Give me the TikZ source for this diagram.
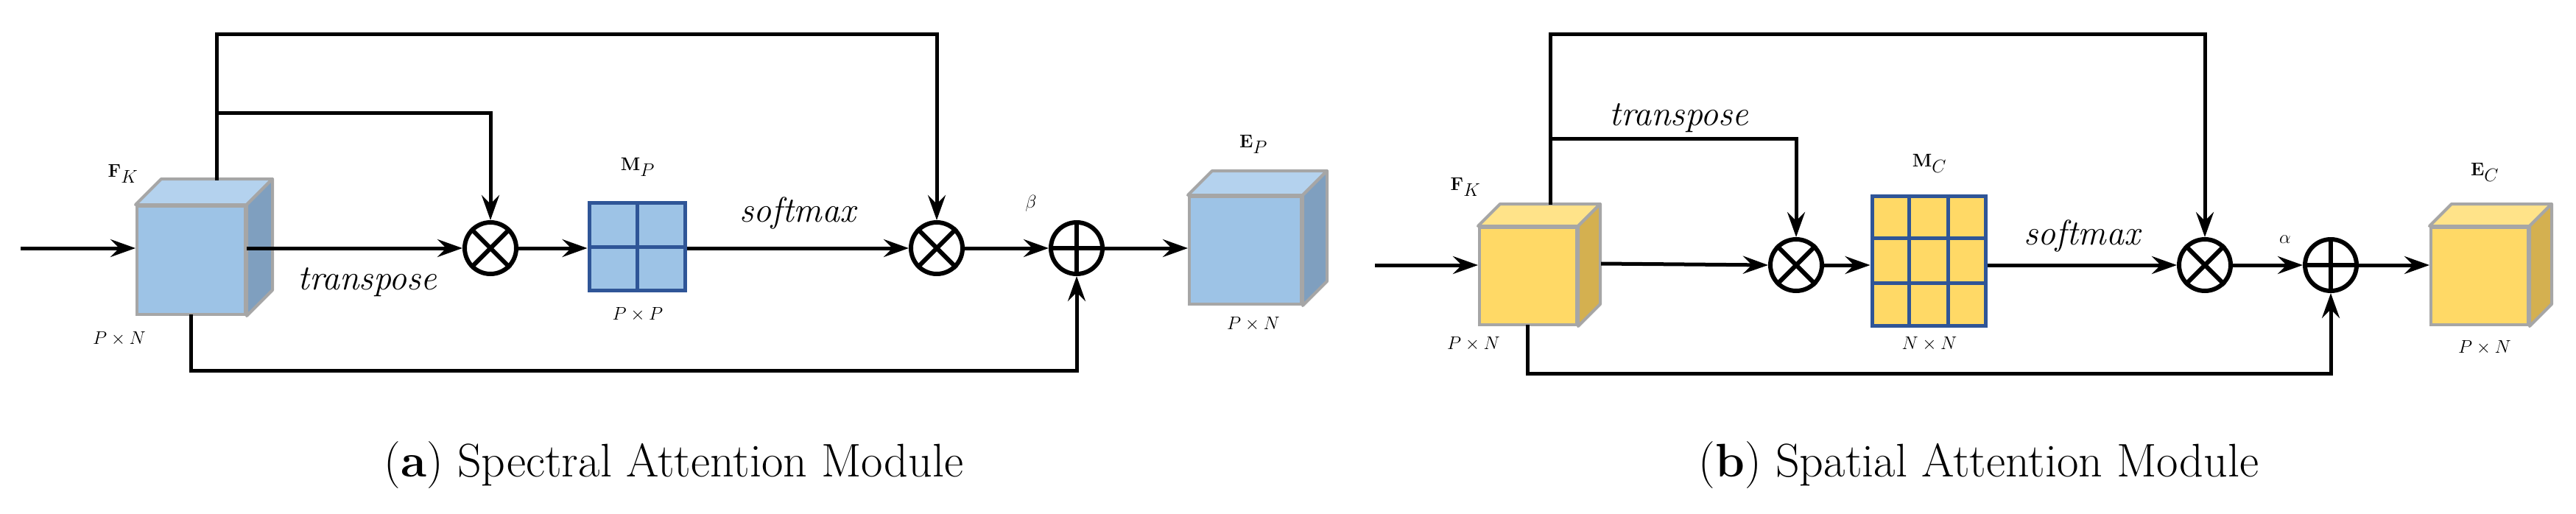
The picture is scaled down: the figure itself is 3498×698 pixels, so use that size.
\documentclass[tikz,border=0pt]{standalone}
\usetikzlibrary{arrows.meta,calc}
\definecolor{bfront}{HTML}{9DC3E6}
\definecolor{btop}{HTML}{B4D2EE}
\definecolor{bside}{HTML}{7F9FBF}
\definecolor{yfront}{HTML}{FFD966}
\definecolor{ytop}{HTML}{FFE389}
\definecolor{yside}{HTML}{D4B050}
\definecolor{gridc}{HTML}{2F5597}
\definecolor{edge}{HTML}{A6A6A6}
\newcommand{\mycube}[7]{% name, cx, cy, w, h, depth, colorprefix
  \node[draw=edge,line width=4pt,fill=#7front,minimum width=#4pt,minimum height=#5pt,inner sep=0pt] (#1) at (#2,#3) {};
  \fill[#7top,draw=edge,line width=4pt,line join=round] (#1.north west) -- ++(#6,-#6) -- ([xshift=#6pt,yshift=#6pt]#1.north east) -- (#1.north east) -- cycle;
  \fill[#7side,draw=edge,line width=4pt,line join=round] (#1.north east) -- ++(#6,-#6) -- ([xshift=#6pt,yshift=#6pt]#1.south east) -- (#1.south east) -- cycle;
}
\begin{document}
\begin{tikzpicture}[x=1pt,y=-1pt,
  ln/.style={line width=5pt},
  ar/.style={line width=5pt,-{Stealth[length=34pt,width=24pt,inset=12pt]}},
  op/.style={circle,draw,line width=6pt,minimum size=70pt,inner sep=0pt},
  lab/.style={font=\fontsize{48}{56}\selectfont\itshape},
  dim/.style={font=\fontsize{44}{52}\selectfont},
  big/.style={font=\fontsize{60}{70}\selectfont},
  captext/.style={font=\fontsize{64}{76}\selectfont}]
\useasboundingbox (0,0) rectangle (3498,698);
% ---------- (a) ----------
\mycube{ca}{259.5}{353.5}{147}{147}{35}{b}
\mycube{ea}{1691}{340}{152}{146}{33}{b}
\node[op] (oa1) at (666,337) {};
\draw[line width=6pt] (oa1.45)--(oa1.225) (oa1.135)--(oa1.315);
\node[op] (oa2) at (1272,337) {};
\draw[line width=6pt] (oa2.45)--(oa2.225) (oa2.135)--(oa2.315);
\node[op] (pa) at (1462,337) {};
\draw[line width=6pt] (pa.north)--(pa.south) (pa.west)--(pa.east);
\node[draw=gridc,fill=bfront,line width=5pt,minimum width=130pt,minimum height=119pt,inner sep=0pt] (ma) at (865,335) {};
\draw[gridc,line width=5pt] (ma.north)--(ma.south) (ma.west)--(ma.east);
\coordinate (ina) at (28,337);
\coordinate (ta) at (294,245);
\coordinate (ba) at (259,427);
\draw[ar] (ina) -- (ina -| ca.west);
\draw[ar] (ca.east |- oa1) -- (oa1.west);
\draw[ar] (oa1.east) -- (ma.west |- oa1);
\draw[ar] (ma.east |- oa2) -- (oa2.west);
\draw[ar] (oa2.east) -- (pa.west);
\draw[ar] (pa.east) -- (ea.west |- pa);
\draw[ar] (ta) -- (294,47) -| (oa2.north);
\draw[ar] (294,153) -| (oa1.north);
\draw[ar] (ba) -- (259,503) -| (pa.south);
\node[big] (fa) at (167,236) {$\mathbf{F}_K$};
\node[dim] (da1) at (162,460) {$P\times N$};
\node[lab] (tra) at (499,383) {transpose};
\node[big] (mla) at (866,227) {$\mathbf{M}_P$};
\node[dim] (da2) at (866,427) {$P\times P$};
\node[lab] (sa) at (1083,289) {softmax};
\node[big] (be) at (1400,276) {$\beta$};
\node[big] (ela) at (1702,196) {$\mathbf{E}_P$};
\node[dim] (da3) at (1702,440) {$P\times N$};
\node[captext] (capa) at (915,632) {(\textbf{a}) Spectral Attention Module};
% ---------- (b) ----------
\mycube{cb}{2075}{375}{132}{132}{30}{y}
\mycube{eb}{3367}{375}{132}{132}{30}{y}
\node[op] (ob1) at (2439,360) {};
\draw[line width=6pt] (ob1.45)--(ob1.225) (ob1.135)--(ob1.315);
\node[op] (ob2) at (2994,360) {};
\draw[line width=6pt] (ob2.45)--(ob2.225) (ob2.135)--(ob2.315);
\node[op] (pb) at (3165,360) {};
\draw[line width=6pt] (pb.north)--(pb.south) (pb.west)--(pb.east);
\node[draw=gridc,fill=yfront,line width=5pt,minimum width=154pt,minimum height=176pt,inner sep=0pt] (mb) at (2619,354) {};
\draw[gridc,line width=5pt] ($(mb.north west)!1/3!(mb.north east)$) -- ($(mb.south west)!1/3!(mb.south east)$)
  ($(mb.north west)!2/3!(mb.north east)$) -- ($(mb.south west)!2/3!(mb.south east)$)
  ($(mb.north west)!1/3!(mb.south west)$) -- ($(mb.north east)!1/3!(mb.south east)$)
  ($(mb.north west)!2/3!(mb.south west)$) -- ($(mb.north east)!2/3!(mb.south east)$);
\coordinate (inb) at (1867,360);
\coordinate (tb) at (2105,278);
\coordinate (bb) at (2074,441);
\draw[ar] (inb) -- (inb -| cb.west);
\draw[ar] (2174,358) -- (ob1.west);
\draw[ar] (ob1.east) -- (mb.west |- ob1);
\draw[ar] (mb.east |- ob2) -- (ob2.west);
\draw[ar] (ob2.east) -- (pb.west);
\draw[ar] (pb.east) -- (eb.west |- pb);
\draw[ar] (tb) -- (2105,47) -| (ob2.north);
\draw[ar] (2105,188) -| (ob1.north);
\draw[ar] (bb) -- (2074,507) -| (pb.south);
\node[big] (fb) at (1990,254) {$\mathbf{F}_K$};
\node[dim] (db1) at (2001,467) {$P\times N$};
\node[lab] (trb) at (2280,160) {transpose};
\node[big] (mlb) at (2620,222) {$\mathbf{M}_C$};
\node[dim] (db2) at (2620,467) {$N\times N$};
\node[lab] (sb) at (2827,320) {softmax};
\node[big] (al) at (3103,325) {$\alpha$};
\node[big] (elb) at (3374,234) {$\mathbf{E}_C$};
\node[dim] (db3) at (3374,472) {$P\times N$};
\node[captext] (capb) at (2687,632) {(\textbf{b}) Spatial Attention Module};
\end{tikzpicture}
\end{document}
